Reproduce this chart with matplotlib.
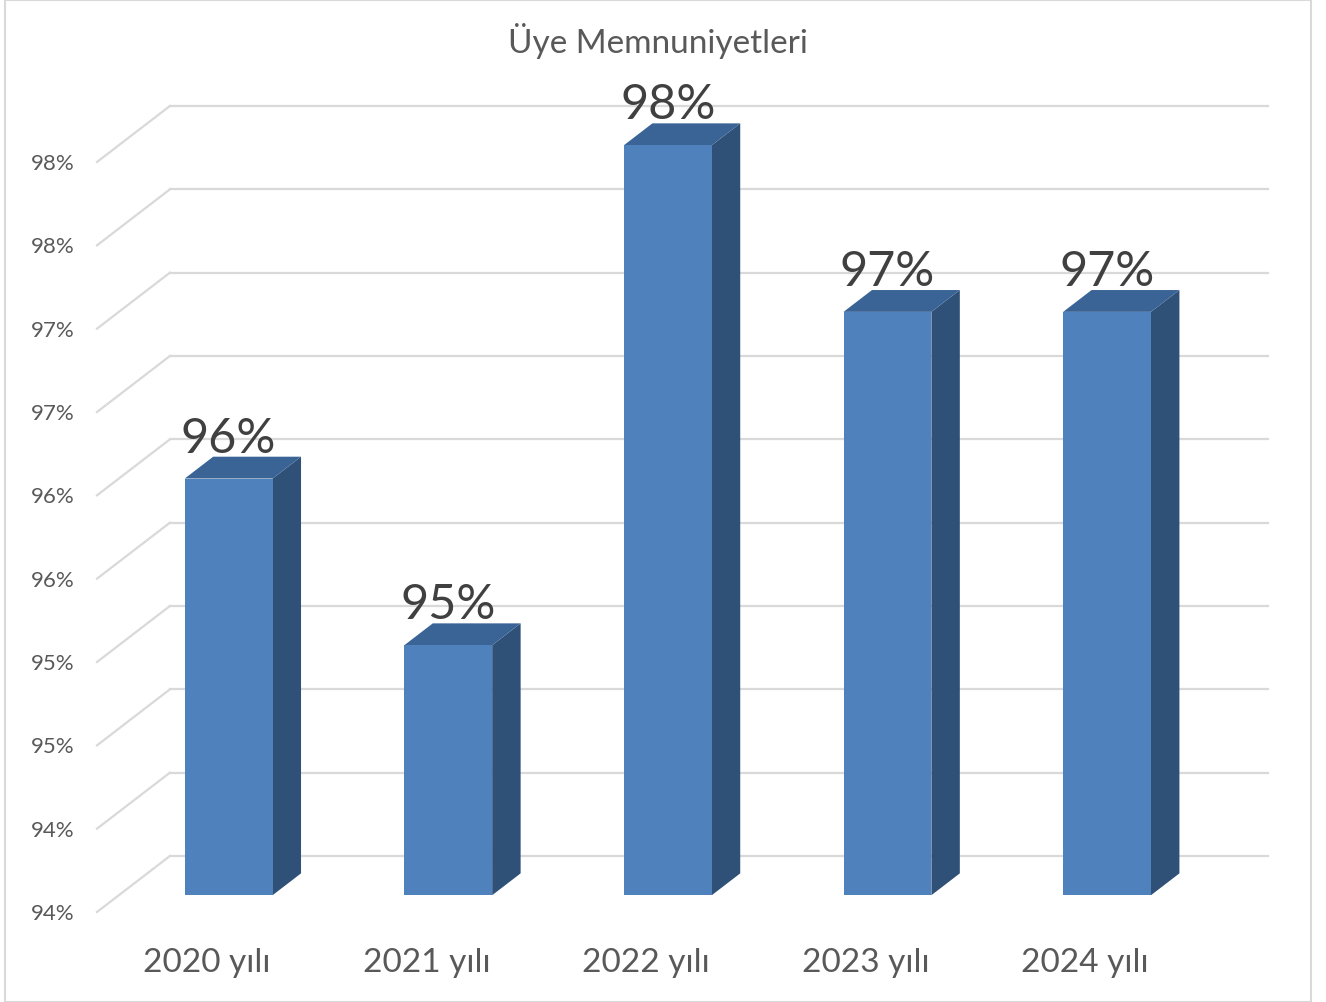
import numpy as np
import matplotlib
matplotlib.use('Agg')
import matplotlib.pyplot as plt
from matplotlib.patches import Polygon, Rectangle
from matplotlib.ticker import FuncFormatter

# chart data
title = 'Üye Memnuniyetleri'
categories = ['2020 yılı', '2021 yılı', '2022 yılı', '2023 yılı', '2024 yılı']
values = [96.5, 95.5, 98.5, 97.5, 97.5]
y_ticks = [94.0, 94.5, 95.0, 95.5, 96.0, 96.5, 97.0, 97.5, 98.0, 98.5]

plt.rcParams['font.family'] = ['Lato', 'DejaVu Sans']

# 3d look: depth offset of the back wall and bar depth range
depth_x, depth_y = 0.332, 0.336
d0, d1 = 0.30, 0.69
bar_w = 0.40
base = y_ticks[0]

fig = plt.figure(figsize=(13.26, 10.02), dpi=100)
ax = fig.add_axes([97 / 1326, 90 / 1002, 1098 / 1326, 750 / 1002])
ax.set_xlim(-0.5, len(categories) - 0.5)
ax.set_ylim(y_ticks[0], y_ticks[-1])
for s in ax.spines.values():
    s.set_visible(False)

# back wall grid + left side wall lines
grid_c = '#d9d9d9'
x0, x1 = -0.5, len(categories) - 0.5
for t in y_ticks:
    ax.plot([x0 + depth_x, x1 + depth_x], [t + depth_y, t + depth_y],
            color=grid_c, lw=1.6, clip_on=False, zorder=1)
    ax.plot([x0, x0 + depth_x], [t, t + depth_y],
            color=grid_c, lw=1.6, clip_on=False, zorder=1)

# bars
front_c, top_c, side_c = '#4F81BD', '#3B6496', '#2F5077'
ddx = (d1 - d0) * depth_x
ddy = (d1 - d0) * depth_y
for i, v in enumerate(values):
    xl = i - bar_w / 2 + d0 * depth_x
    xr = xl + bar_w
    yb = base + d0 * depth_y
    yt = v + d0 * depth_y
    side = Polygon([(xr, yb), (xr + ddx, yb + ddy), (xr + ddx, yt + ddy), (xr, yt)],
                   closed=True, fc=side_c, ec='none', clip_on=False, zorder=2)
    top = Polygon([(xl, yt), (xr, yt), (xr + ddx, yt + ddy), (xl + ddx, yt + ddy)],
                  closed=True, fc=top_c, ec='none', clip_on=False, zorder=2)
    front = Rectangle((xl, yb), bar_w, v - base, fc=front_c, ec='none',
                      clip_on=False, zorder=3)
    ax.add_patch(side)
    ax.add_patch(top)
    ax.add_patch(front)
    ax.text((xl + xr) / 2, yt + ddy + 0.025, f'{int(v)}%', ha='center', va='baseline',
            fontsize=35, color='#404040', zorder=4, clip_on=False)

# axes ticks
ax.set_yticks(y_ticks)
ax.yaxis.set_major_formatter(FuncFormatter(lambda v, p: f'{int(v)}%'))
ax.set_xticks(range(len(categories)))
ax.set_xticklabels(categories)
ax.tick_params(axis='y', length=0, pad=16, labelsize=16, labelcolor='#595959')
ax.tick_params(axis='x', length=0, pad=26, labelsize=24, labelcolor='#595959')

fig.text(658 / 1326, 1 - 53 / 1002, title, ha='center', va='baseline',
         fontsize=24, color='#595959')

# chart border
fig.patches.append(Rectangle((5 / 1326, 0), 1306 / 1326, 1.0, transform=fig.transFigure,
                             fill=False, ec='#d9d9d9', lw=1.5))

fig.savefig('out.png', dpi=100)
